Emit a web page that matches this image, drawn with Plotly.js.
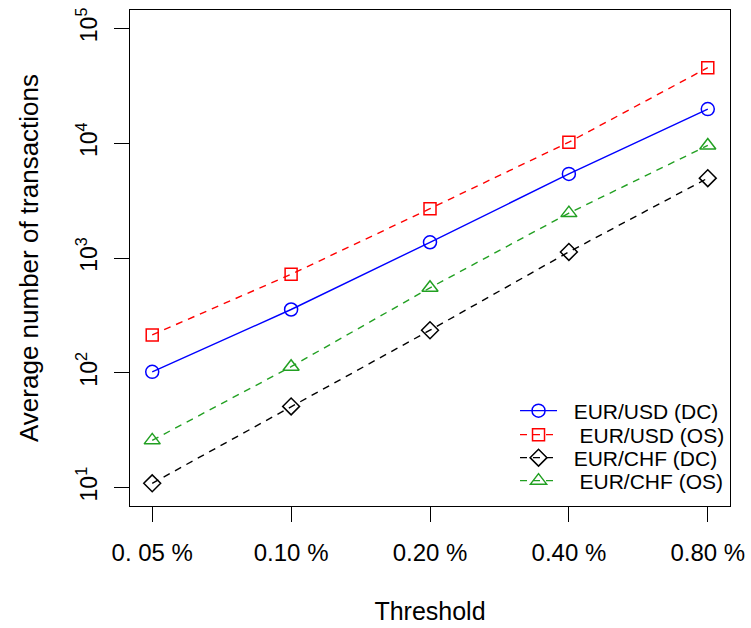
<!DOCTYPE html>
<html>
<head>
<meta charset="utf-8">
<script src="https://cdn.plot.ly/plotly-3.0.1.min.js"></script>
<style>html,body{margin:0;padding:0;background:#fff;}#chart{width:751px;height:628px;}</style>
</head>
<body>
<div id="chart"></div>
<script>
// Data
const thresholds = ['0. 05 %', '0.10 %', '0.20 %', '0.40 %', '0.80 %'];
const eurUsdDC = [102, 356, 1370, 5400, 19800];
const eurUsdOS = [214, 721, 2690, 10200, 45500];
const eurChfDC = [10.9, 51, 235, 1130, 4960];
const eurChfOS = [25.8, 113, 550, 2460, 9550];
const seriesNames = ['\u00a0\u00a0EUR/USD (DC)', '\u00a0\u00a0\u00a0EUR/USD (OS)', '\u00a0\u00a0EUR/CHF (DC)', '\u00a0\u00a0\u00a0EUR/CHF (OS)'];
const yTickVals = [10, 100, 1000, 10000, 100000];
const yTickText = ['10<sup>1</sup>', '10<sup>2</sup>', '10<sup>3</sup>', '10<sup>4</sup>', '10<sup>5</sup>'];

const FONT = '"Liberation Sans", Arial, Helvetica, sans-serif';
const green = '#22A022';

function trace(y, name, color, dash, symbol, size, legendId) {
  return {
    x: thresholds, y: y, name: name, type: 'scatter', mode: 'lines+markers',
    line: {color: color, width: 1.4, dash: dash},
    marker: {symbol: symbol, size: size, color: color, line: {color: color, width: 1.5}},
    legend: legendId
  };
}

const data = [
  trace(eurUsdDC, seriesNames[0], '#0000FF', 'solid', 'circle-open', 13, 'legend'),
  trace(eurUsdOS, seriesNames[1], '#FF0000', '7px,6px', 'square-open', 12, 'legend2'),
  trace(eurChfDC, seriesNames[2], '#000000', '7px,6px', 'diamond-open', 13, 'legend3'),
  trace(eurChfOS, seriesNames[3], green, '7px,6px', 'triangle-up-open', 14, 'legend4')
];

function leg(y) {
  return {x: 0.6417, xanchor: 'left', y: y, yanchor: 'middle', bgcolor: 'rgba(0,0,0,0)',
          borderwidth: 0, itemwidth: 37, font: {family: FONT, size: 21, color: '#000'}};
}

const layout = {
  width: 751, height: 628,
  margin: {l: 130, r: 21, t: 10, b: 122},
  paper_bgcolor: '#fff', plot_bgcolor: '#fff',
  font: {family: FONT, color: '#000'},
  showlegend: true,
  xaxis: {
    type: 'category', range: [-0.16, 4.16],
    showline: true, mirror: true, linecolor: '#000', linewidth: 1,
    ticks: 'outside', ticklen: 15, tickwidth: 1, tickcolor: '#000',
    showgrid: false, zeroline: false,
    tickfont: {family: FONT, size: 24, color: '#000'},
    ticklabelstandoff: 10,
    title: {text: 'Threshold', font: {family: FONT, size: 25, color: '#000'}, standoff: 37}
  },
  yaxis: {
    type: 'log', range: [0.84, 5.16],
    tickvals: yTickVals, ticktext: yTickText, tickangle: -90,
    showline: true, mirror: true, linecolor: '#000', linewidth: 1,
    ticks: 'outside', ticklen: 15, tickwidth: 1, tickcolor: '#000',
    showgrid: false, zeroline: false,
    tickfont: {family: FONT, size: 23, color: '#000'},
    ticklabelstandoff: 8,
    title: {text: 'Average number of transactions', font: {family: FONT, size: 26, color: '#000'}, standoff: 26}
  },
  legend: leg(0.1915),
  legend2: leg(0.1431),
  legend3: leg(0.0968),
  legend4: leg(0.0504)
};

Plotly.newPlot('chart', data, layout, {displayModeBar: false, staticPlot: true});
</script>
</body>
</html>
